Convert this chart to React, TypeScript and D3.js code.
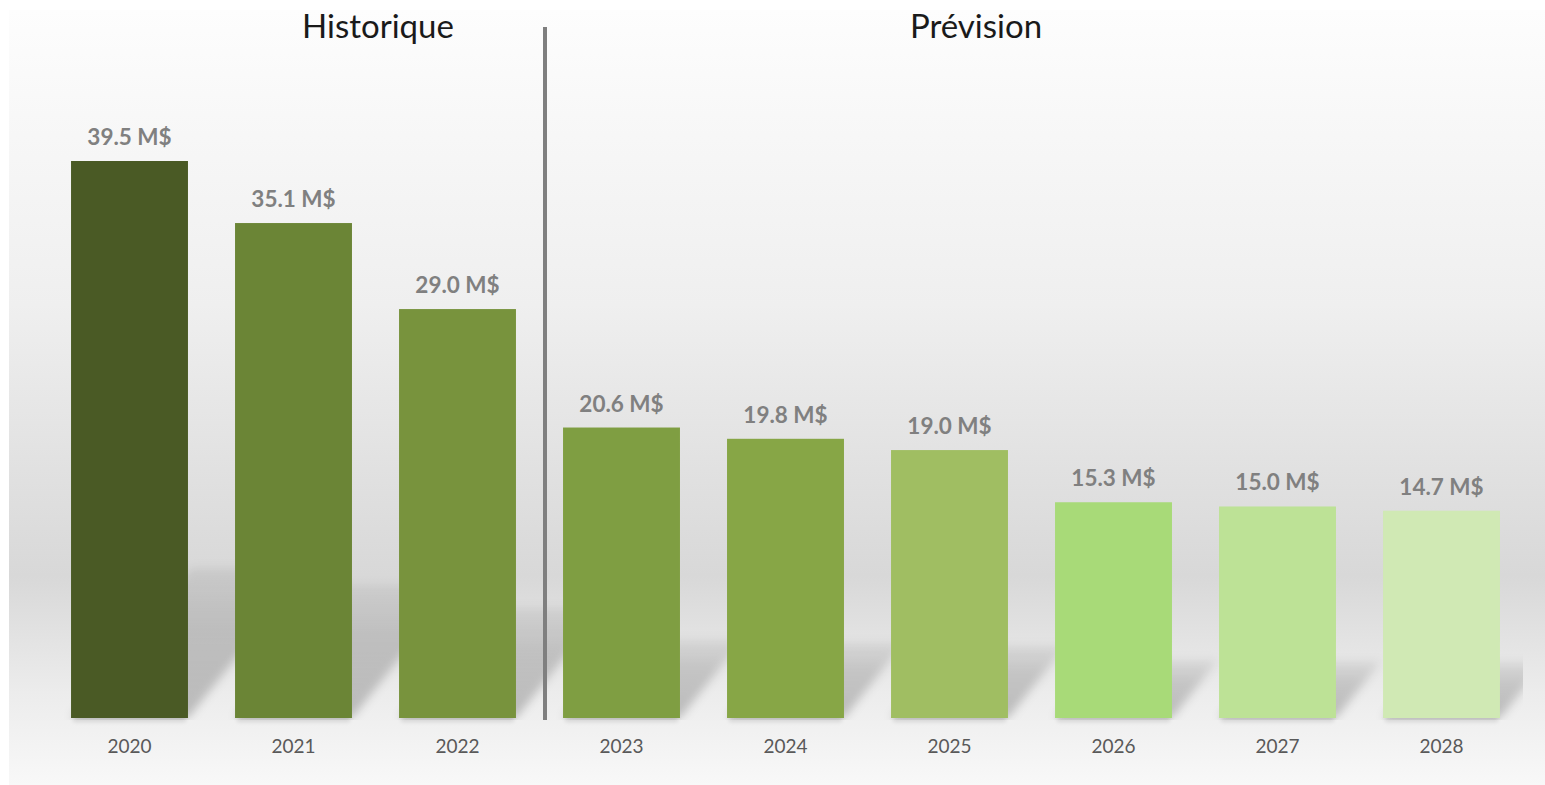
import React from "react";
import * as d3 from "d3";

const years = ["2020", "2021", "2022", "2023", "2024", "2025", "2026", "2027", "2028"];
const values = [39.5, 35.1, 29.0, 20.6, 19.8, 19.0, 15.3, 15.0, 14.7];
const barColors = ["#4a5a25", "#6b8536", "#78933d", "#7f9e42", "#87a646", "#a0be62", "#a8da78", "#bde296", "#d0e9b4"];
const sectionTitles = ["Historique", "Prévision"];

const W = 1545;
const H = 785;
const baseY = 718;
const topY = 161;
const FONT = "Lato, 'Open Sans', sans-serif";

export default function App() {
  const x = d3.scaleBand<string>().domain(years).range([47.5, 1523.5]).paddingInner(0.287).paddingOuter(0.1435);
  const y = d3.scaleLinear().domain([0, 39.5]).range([baseY, topY]);
  const bw = x.bandwidth();
  const divX = 545;
  const histCenter = 378;
  const prevCenter = 976;

  return (
    <svg width={W} height={H} style={{ position: "absolute", left: 0, top: 0, display: "block" }}>
      <defs>
        <linearGradient id="bg" x1="0" y1="0" x2="0" y2="1">
          <stop offset="0" stopColor="#fdfdfd" />
          <stop offset="0.38" stopColor="#efefef" />
          <stop offset="0.73" stopColor="#d8d8d8" />
          <stop offset="0.88" stopColor="#ececec" />
          <stop offset="1" stopColor="#f8f8f8" />
        </linearGradient>
        <linearGradient id="shGrad" x1="0" y1="1" x2="0" y2="0">
          <stop offset="0" stopColor="#000" stopOpacity="0.22" />
          <stop offset="0.6" stopColor="#000" stopOpacity="0.16" />
          <stop offset="1" stopColor="#000" stopOpacity="0.06" />
        </linearGradient>
        <filter id="blur" x="-30%" y="-40%" width="160%" height="180%">
          <feGaussianBlur stdDeviation="5" />
        </filter>
        <filter id="blur2" x="-20%" y="-50%" width="140%" height="200%">
          <feGaussianBlur stdDeviation="2" />
        </filter>
        <clipPath id="plotClip">
          <rect x={9} y={0} width={1514} height={baseY + 2} />
        </clipPath>
      </defs>
      <rect x={0} y={0} width={W} height={H} fill="#ffffff" />
      <rect x={9} y={10} width={W - 9} height={H - 10} fill="url(#bg)" />

      <g clipPath="url(#plotClip)">
        {years.map((yr, i) => {
          const x0 = x(yr) as number;
          const x1 = x0 + bw;
          const h = baseY - y(values[i]);
          const sh = h * 0.27;
          const dx = sh * 0.8;
          const pts = [
            [x0, baseY],
            [x1, baseY],
            [x1 + dx, baseY - sh],
            [x0 + dx, baseY - sh],
          ]
            .map((p) => p.join(","))
            .join(" ");
          return <polygon key={"sh" + yr} points={pts} fill="url(#shGrad)" filter="url(#blur)" />;
        })}
      </g>

      {years.map((yr) => {
        const x0 = x(yr) as number;
        return (
          <rect key={"ds" + yr} x={x0 + 2} y={baseY - 4} width={bw - 4} height={8} fill="#000" opacity={0.1} filter="url(#blur2)" />
        );
      })}

      {years.map((yr, i) => {
        const x0 = x(yr) as number;
        const yt = y(values[i]);
        return (
          <g key={"b" + yr}>
            <rect x={x0} y={yt} width={bw} height={baseY - yt} fill={barColors[i]} />
            <text
              x={x0 + bw / 2}
              y={yt - 16}
              textAnchor="middle"
              fontFamily={FONT}
              fontWeight={700}
              fontSize={22.5}
              fill="#808080"
            >
              {values[i].toFixed(1) + " M$"}
            </text>
            <text x={x0 + bw / 2} y={753} textAnchor="middle" fontFamily={FONT} fontSize={19} fill="#595959">
              {yr}
            </text>
          </g>
        );
      })}

      <rect x={divX - 2} y={27} width={4} height={693} fill="#7f7f7f" />

      <text x={histCenter} y={38} textAnchor="middle" fontFamily={FONT} fontSize={33} fill="#1a1a1a">
        {sectionTitles[0]}
      </text>
      <text x={prevCenter} y={38} textAnchor="middle" fontFamily={FONT} fontSize={33} fill="#1a1a1a">
        {sectionTitles[1]}
      </text>
    </svg>
  );
}
